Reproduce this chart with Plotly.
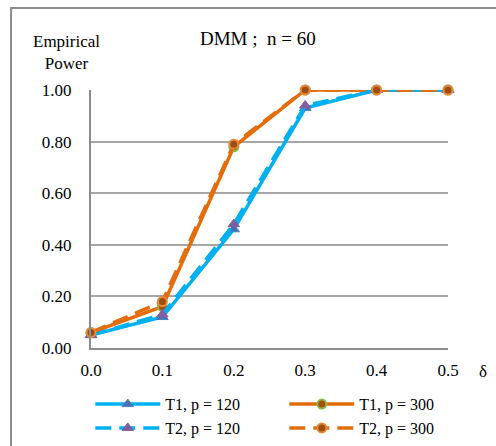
import plotly.graph_objects as go

delta = [0.0, 0.1, 0.2, 0.3, 0.4, 0.5]
t1_p120 = [0.05, 0.12, 0.46, 0.93, 1.00, 1.00]
t2_p120 = [0.05, 0.13, 0.48, 0.94, 1.00, 1.00]
t1_p300 = [0.06, 0.16, 0.78, 1.00, 1.00, 1.00]
t2_p300 = [0.06, 0.18, 0.79, 1.00, 1.00, 1.00]
x_ticks = [0.0, 0.1, 0.2, 0.3, 0.4, 0.5]
y_ticks = [0.0, 0.2, 0.4, 0.6, 0.8, 1.0]

BLUE = "#00B0F0"
ORANGE = "#E46C0A"
FONT = "Liberation Serif"

fig = go.Figure()
fig.add_trace(go.Scatter(x=delta, y=t1_p120, name="T1, p = 120", mode="lines+markers",
                         line=dict(color=BLUE, width=3.5),
                         marker=dict(symbol="triangle-up", size=10, color="#4A6FB5",
                                     line=dict(color="#4A7EBB", width=1)),
                         cliponaxis=False))
fig.add_trace(go.Scatter(x=delta, y=t1_p300, name="T1, p = 300", mode="lines+markers",
                         line=dict(color=ORANGE, width=3.5),
                         marker=dict(symbol="circle", size=9, color="#A5520F",
                                     line=dict(color="#8DB94F", width=2)),
                         cliponaxis=False))
fig.add_trace(go.Scatter(x=delta, y=t2_p120, name="T2, p = 120", mode="lines+markers",
                         line=dict(color=BLUE, width=3.5, dash="16px,8px"),
                         marker=dict(symbol="triangle-up", size=10, color="#7F5FA0",
                                     line=dict(color="#7F60A0", width=1)),
                         cliponaxis=False))
fig.add_trace(go.Scatter(x=delta, y=t2_p300, name="T2, p = 300", mode="lines+markers",
                         line=dict(color=ORANGE, width=3.5, dash="16px,8px"),
                         marker=dict(symbol="circle", size=9, color="#9E4F10",
                                     line=dict(color="#E8883A", width=2)),
                         cliponaxis=False))

fig.update_layout(
    width=496, height=446,
    margin=dict(l=91, r=48, t=90, b=98, autoexpand=False),
    paper_bgcolor="white", plot_bgcolor="white",
    font=dict(family=FONT, size=17, color="black"),
    showlegend=True,
    legend=dict(orientation="h", x=-0.002, xanchor="left", y=-0.152, yanchor="top",
                entrywidth=114, entrywidthmode="pixels", itemwidth=65,
                font=dict(family=FONT, size=16), tracegroupgap=0,
                bgcolor="rgba(0,0,0,0)"),
    xaxis=dict(range=[0, 0.5], tickvals=x_ticks, tickformat=".1f",
               showgrid=False, zeroline=False, showline=True,
               linecolor="#8C8C8C", linewidth=2, ticks="", ticklabelstandoff=6,
               fixedrange=True),
    yaxis=dict(range=[0, 1], tickvals=y_ticks, tickformat=".2f",
               showgrid=True, gridcolor="#A6A6A6", gridwidth=1.5,
               zeroline=False, showline=True, linecolor="#8C8C8C", linewidth=2,
               ticks="", ticklabelstandoff=14, fixedrange=True),
    shapes=[dict(type="rect", xref="paper", yref="paper",
                 x0=-0.224, x1=1.3, y0=-0.5, y1=1.318,
                 line=dict(color="#8C8C8C", width=2), fillcolor="rgba(0,0,0,0)",
                 layer="below")],
    annotations=[
        dict(text="DMM ;  n = 60", xref="paper", yref="paper", x=0.467, y=1.2,
             xanchor="center", yanchor="middle", showarrow=False,
             font=dict(family=FONT, size=19)),
        dict(text="Empirical<br>Power", xref="paper", yref="paper", x=-0.07, y=1.146,
             xanchor="center", yanchor="middle", showarrow=False, align="center",
             font=dict(family=FONT, size=17)),
        dict(text="δ", xref="paper", yref="paper", x=1.098, y=-0.09,
             xanchor="center", yanchor="middle", showarrow=False,
             font=dict(family=FONT, size=17)),
    ],
)

fig.write_html("out.html")
